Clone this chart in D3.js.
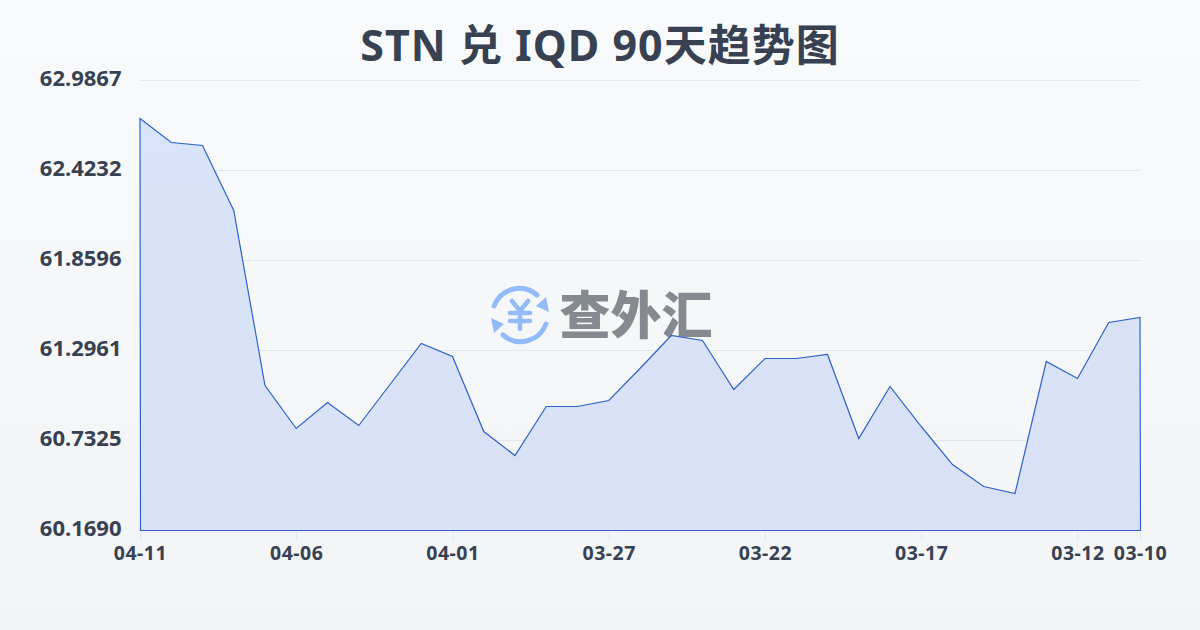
<!DOCTYPE html>
<html><head><meta charset="utf-8">
<script src="https://cdnjs.cloudflare.com/ajax/libs/d3/7.8.5/d3.min.js"></script>
<style>html,body{margin:0;padding:0;background:#f5f6f9}svg{display:block}text{font-family:"Noto Sans","Noto Sans CJK SC",sans-serif}</style>
</head><body><svg id="c" width="1200" height="630"></svg>
<script>
const titleText = "STN 兑 IQD 90天趋势图";
const brandText = "查外汇";
const dates = ["04-11","04-10","04-09","04-08","04-07","04-06","04-05","04-04","04-03","04-02","04-01","03-31","03-30","03-29","03-28","03-27","03-26","03-25","03-24","03-23","03-22","03-21","03-20","03-19","03-18","03-17","03-16","03-15","03-14","03-13","03-12","03-11","03-10"];
const values = [62.7488,62.5985,62.5797,62.1727,61.0769,60.8077,60.9705,60.8264,61.0832,61.3399,61.2585,60.7889,60.6386,60.9454,60.9454,60.9830,61.1834,61.3900,61.3587,61.0519,61.2460,61.2460,61.2710,60.7450,61.0707,60.8202,60.5822,60.4445,60.4007,61.2272,61.1207,61.4714,61.5027];
const yTicks = [60.1690,60.7325,61.2961,61.8596,62.4232,62.9867];
const xTickLabels = ["04-11","04-06","04-01","03-27","03-22","03-17","03-12","03-10"];

const svg = d3.select("#c");
const defs = svg.append("defs");
const bg = defs.append("linearGradient").attr("id","bg").attr("x1",0).attr("y1",0).attr("x2",0).attr("y2",1);
bg.append("stop").attr("offset",0).attr("stop-color","#f9fafc");
bg.append("stop").attr("offset",1).attr("stop-color","#f3f4f6");
const ag = defs.append("linearGradient").attr("id","ag").attr("gradientUnits","userSpaceOnUse").attr("x1",0).attr("y1",118).attr("x2",0).attr("y2",530);
ag.append("stop").attr("offset",0).attr("stop-color","#d8e4f9");
ag.append("stop").attr("offset",1).attr("stop-color","#d9e1f5");
svg.append("rect").attr("width",1200).attr("height",630).attr("fill","url(#bg)");

const x = d3.scalePoint().domain(dates).range([140,1140]);
const y = d3.scaleLinear().domain([60.1690,62.9867]).range([530,80]);

svg.append("text").attr("x",600).attr("y",61).attr("text-anchor","middle").style("letter-spacing","1px")
  .attr("font-size",43).attr("font-weight",700).attr("fill","#374151").text(titleText);

svg.append("g").selectAll("line").data(yTicks.slice(1)).join("line")
  .attr("x1",140).attr("x2",1140).attr("y1",d=>y(d)+.5).attr("y2",d=>y(d)+.5)
  .attr("stroke","#e3e6ec").attr("stroke-width",1);

const wm = svg.append("g");
const ic = wm.append("g").attr("transform","translate(520,315)").attr("fill","none").attr("stroke","#93bbfa");
ic.append("path").attr("stroke-width",5).attr("stroke-linecap","round").attr("d","M-26,-9 A27,27 0 0 1 17,-20");
ic.append("path").attr("stroke-width",5).attr("stroke-linecap","round").attr("d","M26,9 A27,27 0 0 1 -17,20");
ic.append("path").attr("fill","#93bbfa").attr("stroke","none").attr("d","M26,-18 L29,-3 L16,-9 Z");
ic.append("path").attr("fill","#93bbfa").attr("stroke","none").attr("d","M-26,18 L-29,3 L-16,9 Z");
ic.append("path").attr("stroke-width",4.5).attr("stroke-linecap","round").attr("stroke-linejoin","round")
  .attr("d","M-8,-14 L0,-4 L8,-14 M0,-4 L0,14 M-10,-2 L10,-2 M-10,6 L10,6");
wm.append("text").attr("x",636).attr("y",334).attr("text-anchor","middle").attr("font-size",51)
  .attr("font-weight",900).attr("fill","#858990").style("font-family","'Noto Sans CJK SC'").text(brandText);

const pts = dates.map((d,i)=>[x(d),y(values[i])+.5]);
svg.append("path").attr("fill","url(#ag)")
  .attr("d",d3.area().x((d,i)=>x(dates[i])).y0(y(60.1690)).y1(d=>y(d))(values));
svg.append("path").attr("fill","none").attr("stroke","#2e63ca").attr("stroke-width",1.2)
  .attr("d",d3.line()(pts.concat([[1140.5,530.5],[140.5,530.5]]))+"Z");

const xIdx = [0,5,10,15,20,25,30,32];
svg.append("g").selectAll("line").data(xIdx).join("line")
  .attr("x1",i=>x(dates[i])+.5).attr("x2",i=>x(dates[i])+.5).attr("y1",531).attr("y2",541)
  .attr("stroke","#e3e6ec");
svg.append("g").selectAll("text").data(xTickLabels).join("text")
  .attr("x",(d,i)=>x(dates[xIdx[i]])+.5).attr("y",560).attr("text-anchor","middle").style("letter-spacing","0.5px")
  .attr("font-size",19.5).attr("font-weight",700).attr("fill","#374151").text(d=>d);
svg.append("g").selectAll("text").data(yTicks).join("text")
  .attr("x",121.5).attr("y",d=>y(d)+6).attr("text-anchor","end")
  .attr("font-size",22).attr("font-weight",700).attr("fill","#374151").text(d=>d.toFixed(4));
</script></body></html>
